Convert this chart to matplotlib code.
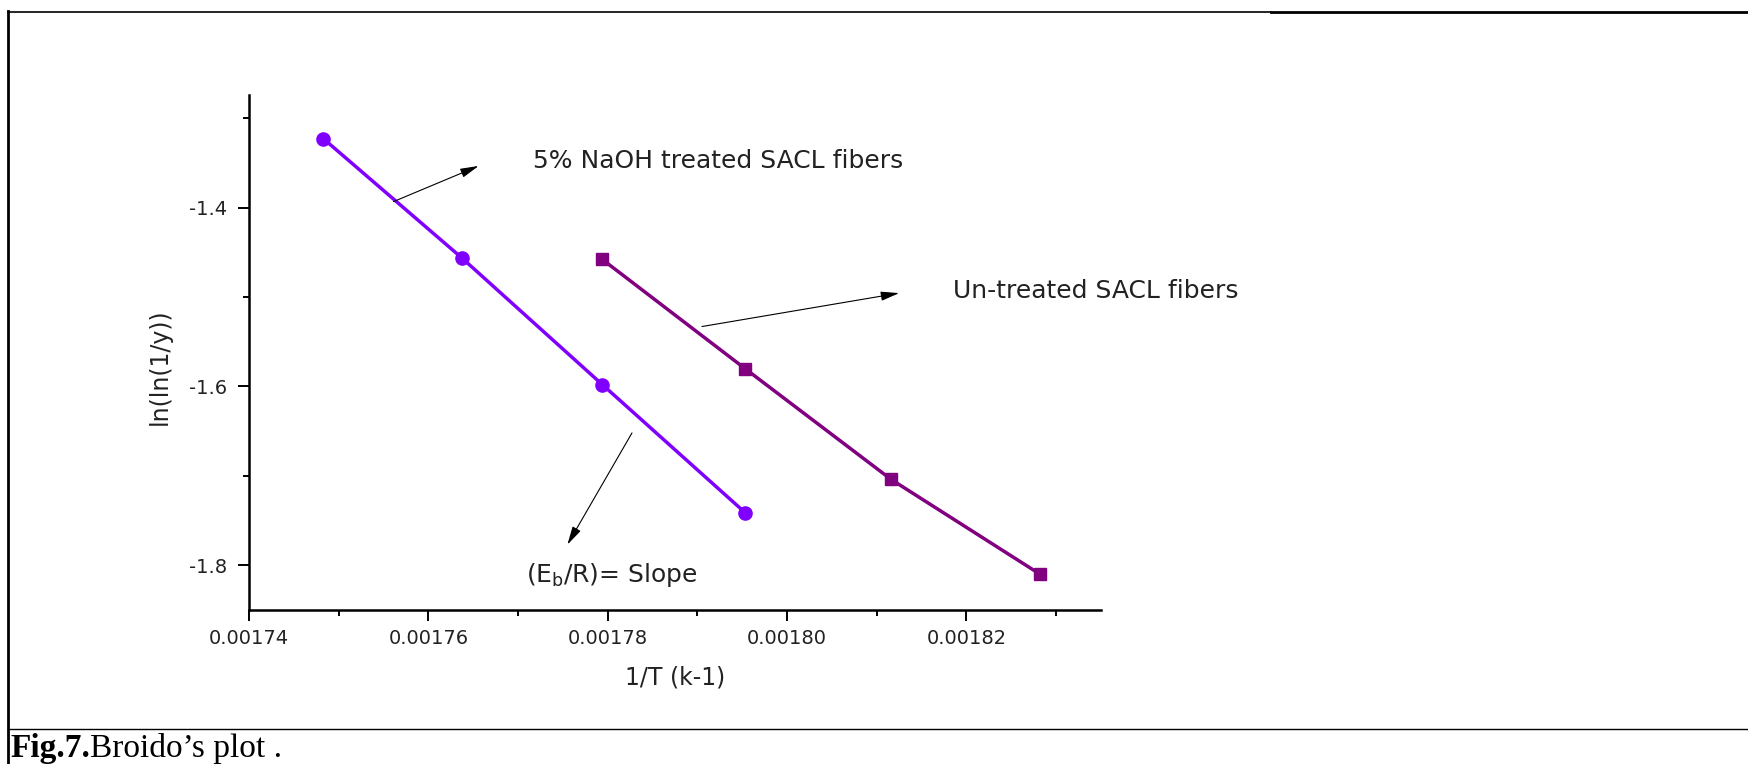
import matplotlib.pyplot as plt
from matplotlib.lines import Line2D
from matplotlib.ticker import MultipleLocator

# 1/T (K^-1) against ln(ln(1/y))
inv_t_treated = [0.0017483, 0.0017637, 0.0017794, 0.0017953]
ln_treated = [-1.323, -1.456, -1.598, -1.741]
inv_t_untreated = [0.0017794, 0.0017953, 0.0018116, 0.0018282]
ln_untreated = [-1.458, -1.580, -1.704, -1.810]

x_ticks = [0.00174, 0.00176, 0.00178, 0.00180, 0.00182]
x_tick_labels = ['0.00174', '0.00176', '0.00178', '0.00180', '0.00182']
y_ticks = [-1.8, -1.6, -1.4]
y_tick_labels = ['-1.8', '-1.6', '-1.4']

plt.rcParams['font.family'] = ['DejaVu Sans']

fig = plt.figure(figsize=(17.49, 7.64), dpi=100)
ax = fig.add_axes([0.1424, 0.2016, 0.4871, 0.6741])

ax.plot(inv_t_treated, ln_treated, '-o', color='#8000ff', lw=2.5, ms=9.5)
ax.plot(inv_t_untreated, ln_untreated, '-s', color='#800080', lw=2.5, ms=8)

ax.set_xlim(0.00174, 0.001835)
ax.set_ylim(-1.85, -1.274)
ax.set_xticks(x_ticks)
ax.set_xticklabels(x_tick_labels)
ax.set_yticks(y_ticks)
ax.set_yticklabels(y_tick_labels)
ax.xaxis.set_minor_locator(MultipleLocator(0.00001))
ax.yaxis.set_minor_locator(MultipleLocator(0.1))
ax.tick_params(which='major', direction='out', length=8, width=1.4, labelsize=14, pad=6, colors='black')
ax.tick_params(which='minor', direction='out', length=4.5, width=1.4)
ax.tick_params(axis='y', which='major', pad=8)
for lbl in ax.get_xticklabels() + ax.get_yticklabels():
    lbl.set_color('#222222')

for s in ['top', 'right']:
    ax.spines[s].set_visible(False)
for s in ['left', 'bottom']:
    ax.spines[s].set_linewidth(1.8)

ax.set_xlabel('1/T (k-1)', fontsize=17, color='#222222')
ax.xaxis.set_label_coords(0.5, -0.108)
ax.set_ylabel('ln(ln(1/y))', fontsize=17, color='#222222')
ax.yaxis.set_label_coords(-0.091, 0.472)

# labels with arrows
arrow = dict(arrowstyle='-|>,head_length=0.8,head_width=0.2', color='black',
             lw=0.8, mutation_scale=14, shrinkA=0, shrinkB=0)
ax.annotate('', xy=(0.0017656, -1.3534), xytext=(0.0017561, -1.3933), arrowprops=arrow)
ax.text(0.0017923, -1.3478, '5% NaOH treated SACL fibers', fontsize=18, ha='center', va='center',
        color='#222222')
ax.annotate('', xy=(0.0018125, -1.4956), xytext=(0.0017905, -1.533), arrowprops=arrow)
ax.text(0.0018344, -1.4931, 'Un-treated SACL fibers', fontsize=18, ha='center', va='center',
        color='#222222')
ax.annotate('', xy=(0.0017755, -1.7769), xytext=(0.0017827, -1.652), arrowprops=arrow)
ax.text(0.0017804, -1.8104, r'(E$_{\mathrm{b}}$/R)= Slope', fontsize=18, ha='center', va='center',
        color='#222222')

# table cell borders around the figure
W, H = 1749.0, 764.0
fig.add_artist(Line2D([8 / W, 1271 / W], [1 - 12 / H, 1 - 12 / H], transform=fig.transFigure, color='black', lw=1.2))
fig.add_artist(Line2D([1271 / W, 1.0], [1 - 12 / H, 1 - 12 / H], transform=fig.transFigure, color='black', lw=2.0))
fig.add_artist(Line2D([8 / W, 8 / W], [0.0, 1 - 11 / H], transform=fig.transFigure, color='black', lw=2.0))
fig.add_artist(Line2D([8 / W, 1.0], [1 - 729 / H, 1 - 729 / H], transform=fig.transFigure, color='black', lw=1.0))

# caption
t1 = fig.text(10 / W, 1 - 757 / H, 'Fig.7.', fontfamily='Liberation Serif', fontweight='bold',
              fontsize=24, va='baseline')
ax.annotate('Broido\u2019s plot .', xy=(1, 0), xycoords=t1, va='bottom', ha='left',
            fontfamily='Liberation Serif', fontsize=24, annotation_clip=False)

fig.savefig('out.png', dpi=100)
